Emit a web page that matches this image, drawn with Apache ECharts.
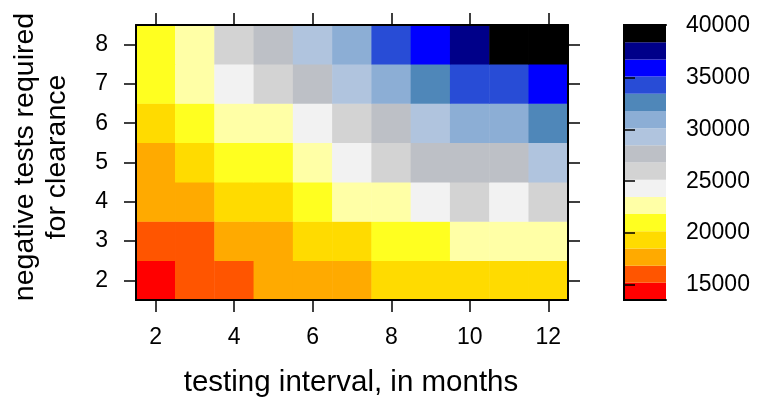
<!DOCTYPE html>
<html><head><meta charset="utf-8">
<script src="https://cdn.jsdelivr.net/npm/echarts@6/dist/echarts.min.js"></script>
<style>html,body{margin:0;padding:0;background:#fff}#c{width:762px;height:412px}</style>
</head><body><div id="c"></div>
<script>
// testing interval (months) on x, negative tests required on y
const xCats = ['2','3','4','5','6','7','8','9','10','11','12'];
const yCats = ['2','3','4','5','6','7','8'];
// cost values, one row per y category (bottom row first)
const row2 = [13550, 15900, 15400, 17200, 17900, 18300, 19100, 19400, 19600, 19800, 20100];
const row3 = [16200, 15600, 17400, 17800, 19000, 19500, 20600, 21300, 22100, 22500, 22900];
const row4 = [17600, 17300, 19000, 19800, 21000, 22300, 23000, 24300, 25600, 24800, 26000];
const row5 = [18200, 19200, 20500, 21200, 22600, 24100, 25700, 27000, 27500, 27900, 29000];
const row6 = [19700, 20900, 22100, 23000, 24400, 25900, 27400, 29100, 30600, 31300, 32600];
const row7 = [21200, 22800, 24200, 25600, 27300, 29300, 30900, 32500, 34000, 34700, 36100];
const row8 = [21600, 23300, 25900, 27700, 29800, 31500, 34400, 35900, 37600, 39200, 40050];
const rows = [row2, row3, row4, row5, row6, row7, row8];
// colour scale
const scaleMin = 13550, scaleMax = 40050;
const binColors = ['#FF0000','#FF5500','#FFAA00','#FFDB00','#FFFF20','#FFFFA6','#F2F2F2','#D3D3D3',
                   '#BDC0C6','#B0C4DE','#8CAED5','#4F87B9','#284CD6','#0000FF','#000089','#000000'];
const colorTicks = [15000, 20000, 25000, 30000, 35000, 40000];

const nBins = binColors.length;
const step = (scaleMax - scaleMin) / nBins;
const pieces = binColors.map((c, i) => {
  const p = {gte: scaleMin + i*step, color: c};
  if (i < nBins-1) p.lt = scaleMin + (i+1)*step; else p.lte = scaleMax + 1;
  return p;
});
const heatData = [];
rows.forEach((r, yi) => r.forEach((v, xi) => heatData.push([xi, yi, v])));
const barData = binColors.map((c, i) => [scaleMin + i*step, scaleMin + (i+1)*step, i]);

const font = 'Liberation Sans, Arial, sans-serif';
const lineStyle = {color: '#000', width: 2};
const tickStyle = {color: '#000', width: 1.5};
const evenIdx = (i) => i % 2 === 0;

const chart = echarts.init(document.getElementById('c'), null, {renderer: 'canvas'});
chart.setOption({
  animation: false,
  backgroundColor: '#fff',
  textStyle: {fontFamily: font},
  grid: [
    {left: 136, top: 25, width: 432, height: 275, show: false},
    {left: 624, top: 25, width: 42, height: 275, show: false}
  ],
  xAxis: [
    {type: 'category', gridIndex: 0, data: xCats, position: 'bottom', z: 10,
     axisLine: {show: true, lineStyle: lineStyle},
     axisTick: {show: true, inside: false, length: 12, alignWithLabel: true, interval: evenIdx, lineStyle: tickStyle},
     axisLabel: {show: true, interval: evenIdx, fontSize: 23, color: '#000', margin: 26, fontFamily: font},
     splitLine: {show: false}},
    {type: 'category', gridIndex: 0, data: xCats, position: 'top', z: 10,
     axisLine: {show: true, lineStyle: lineStyle},
     axisTick: {show: true, inside: false, length: 12, alignWithLabel: true, interval: evenIdx, lineStyle: tickStyle},
     axisLabel: {show: false}, splitLine: {show: false}},
    {type: 'value', gridIndex: 1, min: 0, max: 1, position: 'bottom', z: 10,
     axisLine: {show: true, lineStyle: lineStyle}, axisTick: {show: false}, axisLabel: {show: false}, splitLine: {show: false}},
    {type: 'value', gridIndex: 1, min: 0, max: 1, position: 'top', z: 10,
     axisLine: {show: true, lineStyle: lineStyle}, axisTick: {show: false}, axisLabel: {show: false}, splitLine: {show: false}}
  ],
  yAxis: [
    {type: 'category', gridIndex: 0, data: yCats, position: 'left', z: 10,
     axisLine: {show: true, lineStyle: lineStyle},
     axisTick: {show: true, inside: false, length: 12, alignWithLabel: true, lineStyle: tickStyle},
     axisLabel: {show: true, fontSize: 23, color: '#000', margin: 28, fontFamily: font},
     splitLine: {show: false}},
    {type: 'category', gridIndex: 0, data: yCats, position: 'right', z: 10,
     axisLine: {show: true, lineStyle: lineStyle},
     axisTick: {show: true, inside: false, length: 12, alignWithLabel: true, lineStyle: tickStyle},
     axisLabel: {show: false}, splitLine: {show: false}},
    {type: 'value', gridIndex: 1, min: scaleMin, max: scaleMax, position: 'left', z: 10,
     axisLine: {show: true, lineStyle: lineStyle}, axisTick: {show: false}, axisLabel: {show: false}, splitLine: {show: false}},
    {type: 'value', gridIndex: 1, min: scaleMin, max: scaleMax, position: 'right', z: 10,
     axisLine: {show: true, lineStyle: lineStyle},
     axisTick: {show: true, inside: false, length: 11, customValues: colorTicks, lineStyle: tickStyle},
     axisLabel: {show: true, customValues: colorTicks, fontSize: 23, color: '#000', margin: 20, fontFamily: font,
                 formatter: (v) => String(v), showMinLabel: true, showMaxLabel: true},
     splitLine: {show: false}}
  ],
  visualMap: {type: 'piecewise', show: false, seriesIndex: 0, dimension: 2, pieces: pieces},
  series: [
    {type: 'heatmap', xAxisIndex: 0, yAxisIndex: 0, data: heatData, itemStyle: {borderWidth: 0}},
    {type: 'custom', xAxisIndex: 2, yAxisIndex: 2, data: barData, encode: {y: [0, 1]},
     renderItem: function (params, api) {
       const lo = api.value(0), hi = api.value(1);
       const p0 = api.coord([0, hi]), p1 = api.coord([1, lo]);
       return {type: 'rect', shape: {x: p0[0], y: p0[1], width: p1[0]-p0[0], height: p1[1]-p0[1]},
               style: {fill: binColors[api.value(2)]}};
     }}
  ],
  graphic: [
    {type: 'text', x: 351, y: 383, style: {text: 'testing interval, in months', font: '29.5px ' + font,
      fill: '#000', textAlign: 'center', textVerticalAlign: 'middle'}},
    {type: 'text', x: 41, y: 157, rotation: Math.PI/2,
     style: {text: 'negative tests required\nfor clearance', font: '28.5px ' + font, lineHeight: 32,
      fill: '#000', textAlign: 'center', textVerticalAlign: 'middle'}}
  ]
});
</script></body></html>
